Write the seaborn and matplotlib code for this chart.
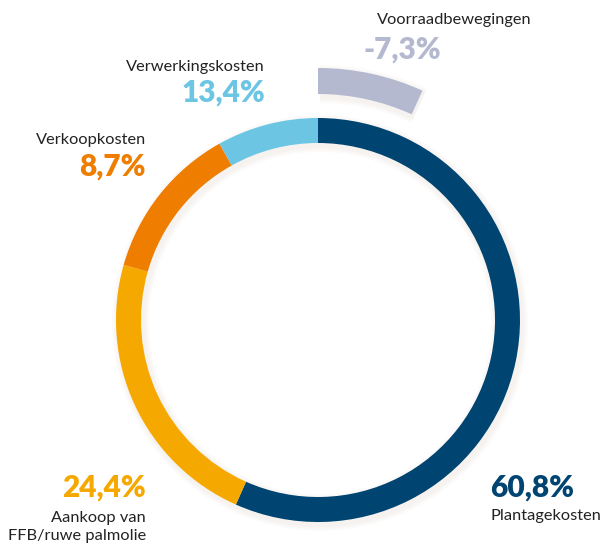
import matplotlib
matplotlib.use("Agg")
import matplotlib.pyplot as plt
import seaborn as sns

# ring segments, clockwise from 12 o'clock (arc shares as drawn)
ring_names = ["Plantagekosten", "Aankoop van FFB/ruwe palmolie", "Verkoopkosten", "Verwerkingskosten"]
ring_shares = [60.8, 24.4, 13.4, 8.7]
ring_colors = ["#004471", "#f5a800", "#ee7d00", "#6cc6e3"]

# negative item, drawn as detached outer arc
stock_share = 7.3
stock_color = "#b4b9d0"

# labels
label_pct = ["60,8%", "24,4%", "8,7%", "13,4%", "-7,3%"]
label_txt = ["Plantagekosten", "Aankoop van\nFFB/ruwe palmolie", "Verkoopkosten", "Verwerkingskosten", "Voorraadbewegingen"]
label_col = ["#004471", "#f5a800", "#ee7d00", "#6cc6e3", "#b4b9d0"]

sns.set_theme(style="white")
plt.rcParams['font.family'] = ['Lato', 'DejaVu Sans']

W, H = 603, 547
fig = plt.figure(figsize=(W / 100, H / 100), dpi=100)
ax = fig.add_axes([0, 0, 1, 1])
ax.set_xlim(0, W)
ax.set_ylim(0, H)
ax.set_aspect('equal')
ax.axis('off')

cx, cy = 318, H - 320
total = sum(ring_shares)

# soft shadow
for k, a in [(6, 0.05), (4, 0.06), (2, 0.08)]:
    ax.pie([1], radius=202 + k, center=(cx + 2, cy - 3),
           colors=["#c9bcb0"], wedgeprops=dict(width=25 + 2 * k, linewidth=0, alpha=a))
    ax.pie([stock_share, total - stock_share], radius=252 + k, center=(cx + 2, cy - 3),
           startangle=90, counterclock=False, colors=["#c9bcb0", "none"],
           wedgeprops=dict(width=26 + 2 * k, linewidth=0, alpha=a))

ax.pie(ring_shares, radius=202, center=(cx, cy), startangle=90, counterclock=False,
       colors=ring_colors, wedgeprops=dict(width=25, linewidth=0))
ax.pie([stock_share, total - stock_share], radius=252, center=(cx, cy), startangle=90,
       counterclock=False, colors=[stock_color, "none"], wedgeprops=dict(width=26, linewidth=0))
ax.set_xlim(0, W)
ax.set_ylim(0, H)

txt_col = "#222222"
pct_fs, txt_fs = 21.5, 11.8
pw = 'heavy'

# Plantagekosten
ax.text(490, H - 488, label_pct[0], color=label_col[0], fontsize=pct_fs, fontweight=pw, ha='left', va='center')
ax.text(490, H - 516, label_txt[0], color=txt_col, fontsize=txt_fs, ha='left', va='center')
# Aankoop
ax.text(146, H - 488, label_pct[1], color=label_col[1], fontsize=pct_fs, fontweight=pw, ha='right', va='center')
ax.text(146, H - 527, label_txt[1], color=txt_col, fontsize=txt_fs, ha='right', va='center', linespacing=1.4)
# Verkoopkosten
ax.text(146, H - 140, label_txt[2], color=txt_col, fontsize=txt_fs, ha='right', va='center')
ax.text(146, H - 167, label_pct[2], color=label_col[2], fontsize=pct_fs, fontweight=pw, ha='right', va='center')
# Verwerkingskosten
ax.text(265, H - 67, label_txt[3], color=txt_col, fontsize=txt_fs, ha='right', va='center')
ax.text(265, H - 93, label_pct[3], color=label_col[3], fontsize=pct_fs, fontweight=pw, ha='right', va='center')
# Voorraadbewegingen
ax.text(454, H - 20, label_txt[4], color=txt_col, fontsize=txt_fs, ha='center', va='center')
ax.text(402, H - 50, label_pct[4], color=label_col[4], fontsize=pct_fs, fontweight=pw, ha='center', va='center')

fig.savefig("out.png", dpi=100)
